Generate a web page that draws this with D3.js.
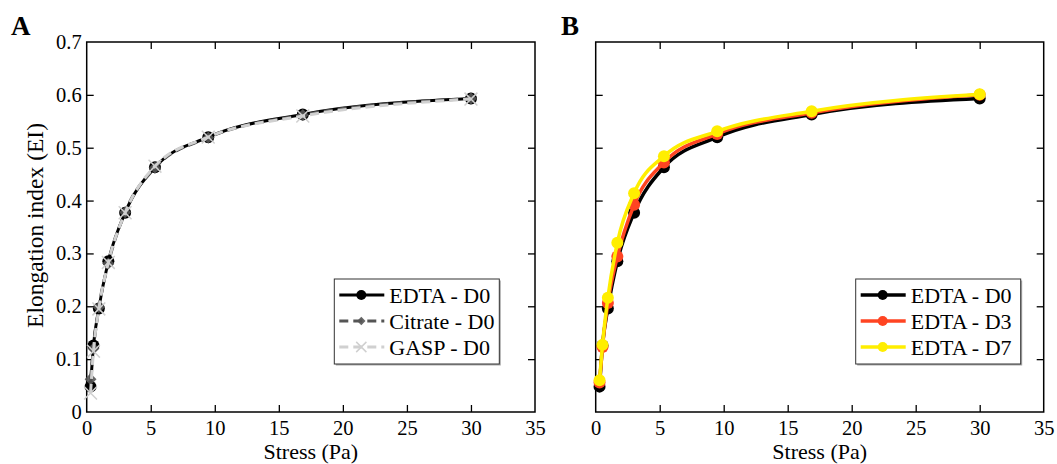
<!DOCTYPE html>
<html>
<head>
<meta charset="utf-8">
<script src="https://cdn.jsdelivr.net/npm/d3@7"></script>
<style>
  body { margin: 0; background: #fff; }
  svg text { font-family: "Liberation Serif", "Times New Roman", serif !important; }
</style>
</head>
<body>
<div id="graph"></div>
<script>
// stress values (Pa) and elongation index per sample
const stress = [0.3, 0.53, 0.95, 1.69, 3.0, 5.33, 9.49, 16.87, 30];
const edtaD0 = [0.048, 0.126, 0.196, 0.285, 0.377, 0.463, 0.520, 0.563, 0.593];
const citrateD0 = [0.062, 0.120, 0.198, 0.281, 0.378, 0.462, 0.519, 0.562, 0.593];
const gaspD0 = [0.036, 0.115, 0.195, 0.283, 0.377, 0.465, 0.520, 0.560, 0.592];
const edtaD3 = [0.056, 0.123, 0.206, 0.294, 0.392, 0.472, 0.526, 0.566, 0.600];
const edtaD7 = [0.060, 0.127, 0.216, 0.320, 0.414, 0.484, 0.531, 0.569, 0.601];

const xTicks = [0, 5, 10, 15, 20, 25, 30, 35];
const yTicks = [0, 0.1, 0.2, 0.3, 0.4, 0.5, 0.6, 0.7];

const W = 1057, H = 464;
const serif = '"Liberation Serif", "Times New Roman", serif';
const svg = d3.select("#graph").append("svg")
  .attr("width", W).attr("height", H)
  .attr("font-family", serif);

const plotTop = 42, plotBottom = 412;

const yScale = d3.scaleLinear().domain([0, 0.7]).range([plotBottom, plotTop]);

function panel(left, right, letter, letterX, showY, series, legendX) {
  const x = d3.scaleLinear().domain([0, 35]).range([left, right]);
  const g = svg.append("g");

  // eje inferior con etiquetas
  g.append("g")
    .attr("transform", `translate(0,${plotBottom})`)
    .call(d3.axisBottom(x).tickValues(xTicks).tickSizeInner(-7).tickSizeOuter(0).tickPadding(8))
    .attr("font-family", serif)
    .call(a => a.select(".domain").remove())
    .call(a => a.selectAll("line").attr("stroke-width", 1.3))
    .call(a => a.selectAll("text").attr("font-size", "20.5px"))
    .call(a => a.selectAll(".tick").filter(d => d == 0 || d == 35).select("line").remove());

  // ticks arriba
  g.append("g")
    .attr("transform", `translate(0,${plotTop})`)
    .call(d3.axisTop(x).tickValues(xTicks.slice(1, -1)).tickSizeInner(-7).tickSizeOuter(0).tickFormat(""))
    .call(a => a.select(".domain").remove())
    .call(a => a.selectAll("line").attr("stroke-width", 1.3));

  // eje izquierdo
  g.append("g")
    .attr("transform", `translate(${left},0)`)
    .call(d3.axisLeft(yScale).tickValues(yTicks).tickSizeInner(-7).tickSizeOuter(0).tickPadding(5)
      .tickFormat(showY ? d3.format("~g") : ""))
    .attr("font-family", serif)
    .call(a => a.select(".domain").remove())
    .call(a => a.selectAll("line").attr("stroke-width", 1.3))
    .call(a => a.selectAll("text").attr("font-size", "20.5px"))
    .call(a => a.selectAll(".tick").filter(d => d == 0 || d == 0.7).select("line").remove());

  // ticks derecha
  g.append("g")
    .attr("transform", `translate(${right},0)`)
    .call(d3.axisRight(yScale).tickValues(yTicks.slice(1, -1)).tickSizeInner(-7).tickSizeOuter(0).tickFormat(""))
    .call(a => a.select(".domain").remove())
    .call(a => a.selectAll("line").attr("stroke-width", 1.3));

  // marco
  g.append("rect")
    .attr("x", left).attr("y", plotTop)
    .attr("width", right - left).attr("height", plotBottom - plotTop)
    .attr("fill", "none").attr("stroke", "#000").attr("stroke-width", 1.5);

  g.append("text")
    .attr("x", letterX).attr("y", 35)
    .attr("font-size", "27px").attr("font-weight", "bold")
    .text(letter);

  g.append("text")
    .attr("x", (left + right) / 2).attr("y", 459)
    .attr("text-anchor", "middle").attr("font-size", "22px")
    .text("Stress (Pa)");

  if (showY) {
    g.append("text")
      .attr("transform", `translate(43,225.5) rotate(-90)`)
      .attr("text-anchor", "middle").attr("font-size", "23.5px")
      .text("Elongation index (EI)");
  }

  const line = d3.line()
    .x((d, i) => x(stress[i]))
    .y(d => yScale(d))
    .curve(d3.curveMonotoneX);

  series.forEach(s => {
    g.append("path")
      .datum(s.values)
      .attr("d", line)
      .attr("fill", "none")
      .attr("stroke", s.color)
      .attr("stroke-width", s.width)
      .attr("stroke-dasharray", s.dash || null);
    drawMarkers(g, s, s.values.map((v, i) => [x(stress[i]), yScale(v)]));
  });

  // leyenda
  const lx = legendX, ly = 279, lw = 165, lh = 85;
  g.append("rect").attr("x", lx + 1.5).attr("y", ly + 1.5).attr("width", lw).attr("height", lh)
    .attr("fill", "#aaa");
  g.append("rect").attr("x", lx).attr("y", ly).attr("width", lw).attr("height", lh)
    .attr("fill", "#fff").attr("stroke", "#333").attr("stroke-width", 1);
  series.forEach((s, i) => {
    const yy = ly + 16 + i * 26;
    g.append("line")
      .attr("x1", lx + 5).attr("x2", lx + 50).attr("y1", yy).attr("y2", yy)
      .attr("stroke", s.color).attr("stroke-width", s.width)
      .attr("stroke-dasharray", s.dash || null);
    drawMarkers(g, s, [[lx + 27, yy]], true);
    g.append("text")
      .attr("x", lx + 55).attr("y", yy + 8)
      .attr("font-size", "22px")
      .text(s.name);
  });
}

function drawMarkers(g, s, pts, small) {
  const r = small ? 5 : 6;
  pts.forEach(([px, py]) => {
    if (s.marker === "circle") {
      g.append("circle").attr("cx", px).attr("cy", py).attr("r", r)
        .attr("fill", s.color);
    } else if (s.marker === "diamond") {
      g.append("path")
        .attr("transform", `translate(${px},${py})`)
        .attr("d", d3.symbol(d3.symbolDiamond2, small ? 45 : 90)())
        .attr("fill", s.color).attr("opacity", 0.9);
    } else if (s.marker === "cross") {
      g.append("path")
        .attr("transform", `translate(${px},${py}) rotate(45)`)
        .attr("d", d3.symbol(d3.symbolPlus, small ? 70 : 110)())
        .attr("fill", "none").attr("stroke", s.color).attr("stroke-width", 1.5);
    }
  });
}

panel(86.7, 535, "A", 11, true, [
  { name: "EDTA - D0", values: edtaD0, color: "#000", width: 3, marker: "circle" },
  { name: "Citrate - D0", values: citrateD0, color: "#555", width: 3, dash: "9,5", marker: "diamond" },
  { name: "GASP - D0", values: gaspD0, color: "#d0d0d0", width: 3, dash: "9,5", marker: "cross" }
], 334.3);

panel(595.7, 1043.7, "B", 561, false, [
  { name: "EDTA - D0", values: edtaD0, color: "#000", width: 3.5, marker: "circle" },
  { name: "EDTA - D3", values: edtaD3, color: "#ff4422", width: 3.5, marker: "circle" },
  { name: "EDTA - D7", values: edtaD7, color: "#ffee00", width: 3.5, marker: "circle" }
], 855.7);
</script>
</body>
</html>
